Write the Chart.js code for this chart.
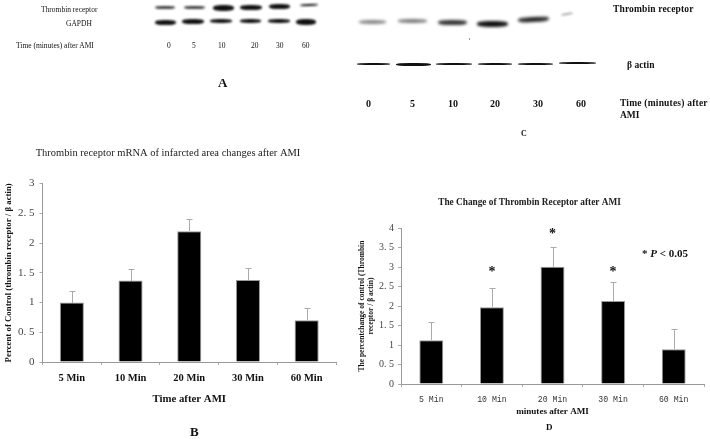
<!DOCTYPE html>
<html><head><meta charset="utf-8">
<script src="https://cdn.jsdelivr.net/npm/chart.js@4"></script>
<style>
html,body{margin:0;padding:0;background:#fff;overflow:hidden}
#page{position:relative;width:710px;height:439px;font-family:"Liberation Serif",serif;color:#111}
.t{position:absolute;white-space:nowrap;filter:blur(.25px)}
.b{font-weight:bold}
.band{position:absolute;background:#111;filter:blur(1.3px);border-radius:40%}
.thin{filter:blur(.7px)}
canvas{position:absolute}
#wb{left:0;top:140px}#wd{left:350px;top:190px}
</style></head><body><div id="page">
<!-- Panel A -->
<div class="t" style="left:41px;top:5px;font-size:7.5px">Thrombin receptor</div>
<div class="t" style="left:66px;top:19px;font-size:7.5px">GAPDH</div>
<div class="t" style="left:16px;top:41px;font-size:7.5px">Time (minutes) after AMI</div>
<div class="t" style="left:167px;top:41px;font-size:7.5px">0</div>
<div class="t" style="left:192px;top:41px;font-size:7.5px">5</div>
<div class="t" style="left:218px;top:41px;font-size:7.5px">10</div>
<div class="t" style="left:251px;top:41px;font-size:7.5px">20</div>
<div class="t" style="left:276px;top:41px;font-size:7.5px">30</div>
<div class="t" style="left:302px;top:41px;font-size:7.5px">60</div>
<div class="t b" style="left:218px;top:75px;font-size:13px">A</div>
<div class="band" style="left:155px;top:6px;width:20px;height:3px;opacity:.8"></div>
<div class="band" style="left:184px;top:6px;width:21px;height:3px;opacity:.8"></div>
<div class="band" style="left:213px;top:5px;width:21px;height:6px"></div>
<div class="band" style="left:240px;top:5px;width:22px;height:5px"></div>
<div class="band" style="left:269px;top:4px;width:21px;height:5px"></div>
<div class="band" style="left:300px;top:4px;width:18px;height:2px;transform:rotate(-2deg)"></div>
<div class="band" style="left:155px;top:20px;width:21px;height:5px"></div>
<div class="band" style="left:182px;top:19px;width:22px;height:5px"></div>
<div class="band" style="left:210px;top:19px;width:22px;height:4px"></div>
<div class="band" style="left:240px;top:19px;width:21px;height:4px"></div>
<div class="band" style="left:268px;top:19px;width:22px;height:4px"></div>
<div class="band" style="left:296px;top:19px;width:20px;height:6px"></div>
<!-- Panel C -->
<div class="t b" style="left:613px;top:4px;font-size:9.5px;letter-spacing:.15px">Thrombin receptor</div>
<div class="t b" style="left:627px;top:60px;font-size:9.5px">β actin</div>
<div class="t b" style="left:366px;top:98px;font-size:10px">0</div>
<div class="t b" style="left:410px;top:98px;font-size:10px">5</div>
<div class="t b" style="left:448px;top:98px;font-size:10px">10</div>
<div class="t b" style="left:490px;top:98px;font-size:10px">20</div>
<div class="t b" style="left:533px;top:98px;font-size:10px">30</div>
<div class="t b" style="left:576px;top:98px;font-size:10px">60</div>
<div class="t b" style="left:620px;top:98px;font-size:9.5px;letter-spacing:.2px">Time (minutes) after</div>
<div class="t b" style="left:620px;top:110px;font-size:9.5px">AMI</div>
<div class="t b" style="left:521px;top:129px;font-size:8px">C</div>
<div class="band" style="left:359px;top:20px;width:27px;height:4px;opacity:.5;filter:blur(1.8px)"></div>
<div class="band" style="left:398px;top:19px;width:29px;height:4px;opacity:.55;filter:blur(1.8px)"></div>
<div class="band" style="left:438px;top:20px;width:29px;height:5px;opacity:.85;filter:blur(1.8px)"></div>
<div class="band" style="left:477px;top:21px;width:31px;height:6px;filter:blur(1.8px)"></div>
<div class="band" style="left:518px;top:17px;width:31px;height:5px;opacity:.9;filter:blur(1.8px);transform:rotate(-3deg)"></div>
<div class="band" style="left:561px;top:13px;width:12px;height:2px;opacity:.35;transform:rotate(-10deg)"></div>
<div class="band thin" style="left:357px;top:63px;width:33px;height:2px"></div>
<div class="band thin" style="left:396px;top:63px;width:35px;height:3px"></div>
<div class="band thin" style="left:436px;top:63px;width:36px;height:2px"></div>
<div class="band thin" style="left:478px;top:63px;width:34px;height:2px"></div>
<div class="band thin" style="left:518px;top:63px;width:35px;height:2px"></div>
<div class="band thin" style="left:559px;top:62px;width:37px;height:2px"></div>
<div class="t" style="left:469px;top:38px;width:1px;height:2px;background:#999"></div>
<!-- Panel labels -->
<div class="t b" style="left:190px;top:425px;font-size:13px;line-height:13px">B</div>
<div class="t b" style="left:546px;top:422px;font-size:9px;line-height:10px">D</div>
<div class="t b" style="left:642px;top:247px;font-size:11px;line-height:12px">* <i>P</i> &lt; 0.05</div>
<canvas id="wb" width="350" height="299" style="width:350px;height:299px"></canvas>
<canvas id="wd" width="360" height="249" style="width:360px;height:249px"></canvas>
</div>
<script>
const categories = ["5 Min","10 Min","20 Min","30 Min","60 Min"];
const tickLabelsB = {0:"0",0.5:"0. 5",1:"1",1.5:"1. 5",2:"2",2.5:"2. 5",3:"3"};
const tickLabelsD = {0:"0",0.5:"0. 5",1:"1",1.5:"1. 5",2:"2",2.5:"2. 5",3:"3",3.5:"3. 5",4:"4"};
const valuesB = [1.0,1.37,2.2,1.38,0.7];
const errorTopB = [1.2,1.57,2.41,1.58,0.9];
const valuesD = [1.12,1.97,3.01,2.13,0.89];
const errorTopD = [1.6,2.46,3.51,2.62,1.4];
const starsD = [null,2.92,3.88,2.92,null];
const titleB = "Thrombin receptor mRNA of infarcted area changes after AMI";
const titleD = "The Change of Thrombin Receptor after AMI";
const serif = '"Liberation Serif",serif';

const errorPlugin = {
  id:'errs',
  afterDatasetsDraw(c,a,o){
    const {ctx,scales:{x,y}}=c;
    ctx.save();ctx.strokeStyle='#aaa';ctx.lineWidth=1;
    o.top.forEach((t,i)=>{
      const px=Math.round(x.getPixelForValue(i))+.5, v=Math.round(y.getPixelForValue(c.data.datasets[0].data[i])), py=Math.round(y.getPixelForValue(t))+.5;
      ctx.beginPath();ctx.moveTo(px,v);ctx.lineTo(px,py);ctx.moveTo(px-3,py);ctx.lineTo(px+3,py);ctx.stroke();
    });
    if(o.stars){
      ctx.fillStyle='#111';ctx.font='bold 14px '+serif;ctx.textAlign='center';ctx.textBaseline='middle';
      o.stars.forEach((s,i)=>{ if(s!==null) ctx.fillText('*',x.getPixelForValue(i),y.getPixelForValue(s)+2); });
    }
    ctx.restore();
  }
};

function make(id,cfg){
  new Chart(document.getElementById(id),{
    type:'bar',
    plugins:[errorPlugin],
    data:{labels:categories,datasets:[{data:cfg.values,backgroundColor:'#000',borderColor:'#999',borderWidth:1,barPercentage:cfg.barPct,categoryPercentage:1}]},
    options:{
      responsive:false,animation:false,
      layout:{padding:cfg.padding},
      plugins:{legend:{display:false},tooltip:{enabled:false},
        title:{display:true,text:cfg.title,color:'#222',align:'center',font:cfg.titleFont,padding:cfg.titlePad},
        errs:{top:cfg.err,stars:cfg.stars}},
      scales:{
        x:{grid:{display:true,drawOnChartArea:false,color:'#aaa',tickLength:3},border:{color:'#999'},
          ticks:{color:cfg.xTickColor,font:cfg.xTickFont,padding:cfg.xTickPad,maxRotation:0,autoSkip:false},
          title:{display:true,text:cfg.xTitle,color:'#111',font:cfg.xTitleFont,padding:cfg.xTitlePad},
          afterFit(s){s.height=cfg.xH}},
        y:{min:0,max:cfg.max,grid:{display:true,drawOnChartArea:false,color:'#aaa',tickLength:3},border:{color:'#999'},
          ticks:{stepSize:.5,color:'#444',font:{family:serif,size:cfg.yTickSize},padding:cfg.yTickPad,callback:v=>cfg.yLabels[v]},
          title:{display:true,text:cfg.yTitle,color:'#111',font:cfg.yTitleFont,padding:cfg.yTitlePad},
          afterFit(s){s.width=cfg.yW}}
      }
    }
  });
}

make('wb',{values:valuesB,err:errorTopB,stars:null,max:3,barPct:.41,title:titleB,
  titleFont:{family:serif,size:10.5,weight:'normal'},titlePad:{top:0,bottom:24},
  padding:{left:0,right:14,top:7,bottom:33},
  xTickFont:{family:serif,size:10.5,weight:'bold'},xTickColor:'#111',xTickPad:7,xH:44,
  xTitle:"Time after AMI",xTitleFont:{family:serif,size:10.8,weight:'bold'},xTitlePad:{top:6,bottom:0},
  yTitle:"Percent of Control (thrombin receptor / β actin)",yTitleFont:{family:serif,size:8.8,weight:'bold'},yTitlePad:{top:3,bottom:0},
  yTickSize:11,yTickPad:5,yW:42.5,yLabels:tickLabelsB});

make('wd',{values:valuesD,err:errorTopD,stars:starsD,max:4,barPct:.395,title:titleD,
  titleFont:{family:serif,size:9.3,weight:'bold'},titlePad:{top:0,bottom:20},
  padding:{left:5,right:6,top:7,bottom:22},
  xTickFont:{family:'"Liberation Mono",monospace',size:8.2,weight:'normal'},xTickColor:'#333',xTickPad:8,xH:33,
  xTitle:"minutes after AMI",xTitleFont:{family:serif,size:9.1,weight:'bold'},xTitlePad:{top:1,bottom:0},
  yTitle:["The percentchange of control (Thrombin","receptor / β actin)"],yTitleFont:{family:serif,size:7.5,weight:'bold'},yTitlePad:{top:3,bottom:0},
  yTickSize:10,yTickPad:4,yW:46,yLabels:tickLabelsD});
</script>
</body></html>
